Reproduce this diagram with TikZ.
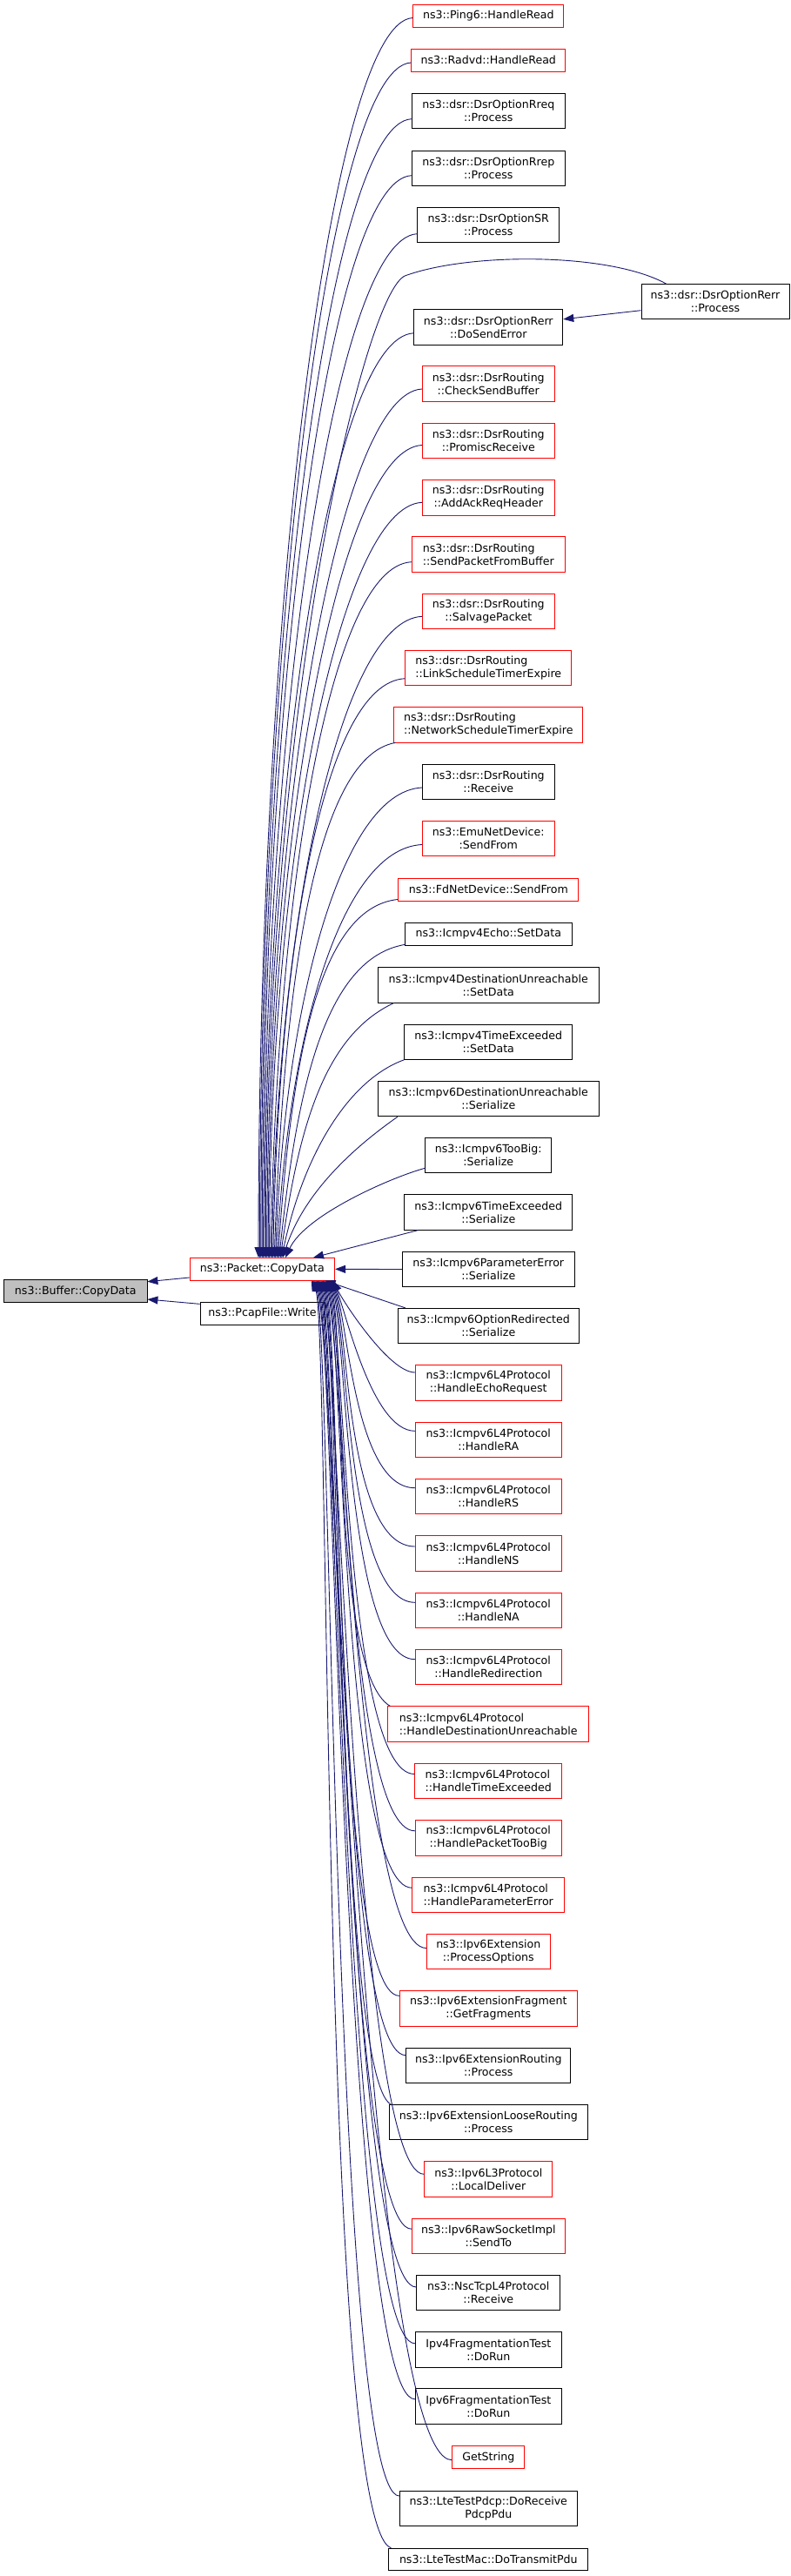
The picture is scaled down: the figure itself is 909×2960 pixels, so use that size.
\documentclass[tikz,border=0pt]{standalone}
\usepackage{fontspec}
\newfontfamily\dvs{DejaVu Sans}
\usetikzlibrary{arrows.meta,calc}
\definecolor{edgec}{HTML}{191970}
\definecolor{bufgray}{HTML}{BFBFBF}
\newcommand\twoline[2]{%
  \setbox0=\hbox{#1}\setbox2=\hbox{#2}%
  \ifdim\wd0>\wd2 \dimen0=\wd0 \else \dimen0=\wd2 \fi
  \vbox{\hbox to\dimen0{\box0\hfil}\hbox to\dimen0{\hfil\box2\hfil}}}
\tikzset{
  fn/.style={draw, line width=0.9pt, fill=white, inner sep=0pt, text=black,
    font=\dvs\fontsize{12.6}{15}\selectfont},
  fb/.style={fn, draw=black},
  fr/.style={fn, draw=red},
  one/.style={minimum height=25.6pt},
  two/.style={minimum height=40.3pt},
  edge/.style={draw=edgec, line width=0.9pt, -{Triangle[length=12pt,width=9pt]}},
}
\begin{document}
\begin{tikzpicture}[x=1pt,y=1pt]
\fill[white] (0,0) rectangle (909,-2960);
\useasboundingbox (0,0) rectangle (909,-2960);

% left nodes
\node[fr,one,minimum width=166.6pt] (pk) at (301.3,-1458.3) {ns3::Packet::CopyData};
\node[fb,minimum height=26pt,minimum width=164.3pt,fill=bufgray] (buf) at (86.8,-1483.7) {ns3::Buffer::CopyData};
\node[fb,one,minimum width=143pt] (pcap) at (301.5,-1509.3) {ns3::PcapFile::Write};

% right column
\node[fr,one,minimum width=173pt] (p6) at (561.3,-18.5) {ns3::Ping6::HandleRead};
\node[fr,one,minimum width=177pt] (rv) at (561.3,-69.3) {ns3::Radvd::HandleRead};
\node[fb,two,minimum width=176pt] (rq) at (561.3,-127.7) {\twoline{ns3::dsr::DsrOptionRreq}{::Process}};
\node[fb,two,minimum width=176pt] (rp) at (561.3,-193.2) {\twoline{ns3::dsr::DsrOptionRrep}{::Process}};
\node[fb,two,minimum width=163pt] (sr) at (561.3,-258.7) {\twoline{ns3::dsr::DsrOptionSR}{::Process}};
\node[fb,two,minimum width=171pt] (se) at (561.3,-375.8) {\twoline{ns3::dsr::DsrOptionRerr}{::DoSendError}};
\node[fb,two,minimum width=170pt] (rerr) at (822,-346.7) {\twoline{ns3::dsr::DsrOptionRerr}{::Process}};
\node[fr,two,minimum width=152pt] (csb) at (561.3,-441) {\twoline{ns3::dsr::DsrRouting}{::CheckSendBuffer}};
\node[fr,two,minimum width=152pt] (prc) at (561.3,-506.5) {\twoline{ns3::dsr::DsrRouting}{::PromiscReceive}};
\node[fr,two,minimum width=152pt] (aah) at (561.3,-571.8) {\twoline{ns3::dsr::DsrRouting}{::AddAckReqHeader}};
\node[fr,two,minimum width=176pt] (spb) at (561.3,-637) {\twoline{ns3::dsr::DsrRouting}{::SendPacketFromBuffer}};
\node[fr,two,minimum width=152pt] (svp) at (561.3,-702.3) {\twoline{ns3::dsr::DsrRouting}{::SalvagePacket}};
\node[fr,two,minimum width=191pt] (lst) at (561.3,-767.7) {\twoline{ns3::dsr::DsrRouting}{::LinkScheduleTimerExpire}};
\node[fr,two,minimum width=217pt] (nst) at (561.3,-832.8) {\twoline{ns3::dsr::DsrRouting}{::NetworkScheduleTimerExpire}};
\node[fb,two,minimum width=152pt] (drc) at (561.3,-898.3) {\twoline{ns3::dsr::DsrRouting}{::Receive}};
\node[fr,two,minimum width=152pt] (emu) at (561.3,-963.5) {\twoline{ns3::EmuNetDevice:}{:SendFrom}};
\node[fr,one,minimum width=207pt] (fd) at (561.3,-1022.2) {ns3::FdNetDevice::SendFrom};
\node[fb,one,minimum width=192pt] (e4) at (561.3,-1073.2) {ns3::Icmpv4Echo::SetData};
\node[fb,two,minimum width=254pt] (du4) at (561.3,-1131.8) {\twoline{ns3::Icmpv4DestinationUnreachable}{::SetData}};
\node[fb,two,minimum width=193pt] (te4) at (561.3,-1197.2) {\twoline{ns3::Icmpv4TimeExceeded}{::SetData}};
\node[fb,two,minimum width=254pt] (du6) at (561.3,-1262.7) {\twoline{ns3::Icmpv6DestinationUnreachable}{::Serialize}};
\node[fb,two,minimum width=145pt] (tb6) at (561.3,-1327.7) {\twoline{ns3::Icmpv6TooBig:}{:Serialize}};
\node[fb,two,minimum width=193pt] (te6) at (561.3,-1393) {\twoline{ns3::Icmpv6TimeExceeded}{::Serialize}};
\node[fb,two,minimum width=198pt] (pe6) at (561.3,-1458.5) {\twoline{ns3::Icmpv6ParameterError}{::Serialize}};
\node[fb,two,minimum width=208pt] (or6) at (561.3,-1523.5) {\twoline{ns3::Icmpv6OptionRedirected}{::Serialize}};
\node[fr,two,minimum width=168pt] (her) at (561.3,-1589) {\twoline{ns3::Icmpv6L4Protocol}{::HandleEchoRequest}};
\node[fr,two,minimum width=168pt] (hra) at (561.3,-1654.3) {\twoline{ns3::Icmpv6L4Protocol}{::HandleRA}};
\node[fr,two,minimum width=168pt] (hrs) at (561.3,-1719.7) {\twoline{ns3::Icmpv6L4Protocol}{::HandleRS}};
\node[fr,two,minimum width=168pt] (hns) at (561.3,-1785) {\twoline{ns3::Icmpv6L4Protocol}{::HandleNS}};
\node[fr,two,minimum width=168pt] (hna) at (561.3,-1850.3) {\twoline{ns3::Icmpv6L4Protocol}{::HandleNA}};
\node[fr,two,minimum width=168pt] (hrd) at (561.3,-1915.7) {\twoline{ns3::Icmpv6L4Protocol}{::HandleRedirection}};
\node[fr,two,minimum width=231pt] (hdu) at (561.3,-1981) {\twoline{ns3::Icmpv6L4Protocol}{::HandleDestinationUnreachable}};
\node[fr,two,minimum width=169pt] (hte) at (561.3,-2046.5) {\twoline{ns3::Icmpv6L4Protocol}{::HandleTimeExceeded}};
\node[fr,two,minimum width=168pt] (hpt) at (561.3,-2111.8) {\twoline{ns3::Icmpv6L4Protocol}{::HandlePacketTooBig}};
\node[fr,two,minimum width=175pt] (hpe) at (561.3,-2177.2) {\twoline{ns3::Icmpv6L4Protocol}{::HandleParameterError}};
\node[fr,two,minimum width=142pt] (po) at (561.3,-2242.5) {\twoline{ns3::Ipv6Extension}{::ProcessOptions}};
\node[fr,two,minimum width=204pt] (gf) at (561.3,-2307.8) {\twoline{ns3::Ipv6ExtensionFragment}{::GetFragments}};
\node[fb,two,minimum width=189pt] (erp) at (561.3,-2373.2) {\twoline{ns3::Ipv6ExtensionRouting}{::Process}};
\node[fb,two,minimum width=228pt] (elr) at (561.3,-2438.5) {\twoline{ns3::Ipv6ExtensionLooseRouting}{::Process}};
\node[fr,two,minimum width=147pt] (ld) at (561.3,-2503.8) {\twoline{ns3::Ipv6L3Protocol}{::LocalDeliver}};
\node[fr,two,minimum width=176pt] (rs) at (561.3,-2569.2) {\twoline{ns3::Ipv6RawSocketImpl}{::SendTo}};
\node[fb,two,minimum width=165pt] (nsc) at (561.3,-2634.5) {\twoline{ns3::NscTcpL4Protocol}{::Receive}};
\node[fb,two,minimum width=168pt] (f4) at (561.3,-2699.8) {\twoline{Ipv4FragmentationTest}{::DoRun}};
\node[fb,two,minimum width=168pt] (f6) at (561.3,-2764.8) {\twoline{Ipv6FragmentationTest}{::DoRun}};
\node[fr,one,minimum width=83pt] (gs) at (561.3,-2823.7) {GetString};
\node[fb,two,minimum width=204pt] (pd) at (561.3,-2882.5) {\twoline{ns3::LteTestPdcp::DoReceive}{PdcpPdu}};
\node[fb,one,minimum width=229pt] (mac) at (561.3,-2941) {ns3::LteTestMac::DoTransmitPdu};

% edges into Buffer::CopyData
\draw[edge] ($(pk.west)+(0,-9.7)$) -- ($(buf.east)+(0,11)$);
\draw[edge] ($(pcap.north west)+(0,-2.3)$) -- ($(buf.east)+(0,-9.3)$);

% DsrOptionRerr::Process
\draw[edge] ($(rerr.west)+(0,-10)$) -- ($(se.east)+(0,9)$);
\coordinate (rrbend) at (466,-316.7);
\draw[edge] ($(rerr.north west)+(29,0)$) .. controls (700,-290) and (540,-290) .. (rrbend)
   .. controls (420,-333) and (305.3,-800) .. ($(pk.north)+(4,0)$);

% upper callers
\draw[edge] ($(p6.west)+(0,-2)$)   .. controls +(-95,-5) and +(0,741) .. ($(pk.north)+(-4.3,0)$);
\draw[edge] ($(rv.west)+(0,-2.7)$) .. controls +(-95,-5) and +(0,714) .. ($(pk.north)+(-2.9,0)$);
\draw[edge] ($(rq.west)+(0,-9)$)   .. controls +(-95,-5) and +(0,681) .. ($(pk.north)+(-1.5,0)$);
\draw[edge] ($(rp.west)+(0,-8.5)$) .. controls +(-95,-5) and +(0,647) .. ($(pk.north)+(-0.1,0)$);
\draw[edge] ($(sr.west)+(0,-10)$)  .. controls +(-95,-5) and +(0,612) .. ($(pk.north)+(1.3,0)$);
\draw[edge] ($(se.west)+(0,-7)$)   .. controls +(-95,-5) and +(0,553) .. ($(pk.north)+(2.7,0)$);
\draw[edge] ($(csb.west)+(0,-6)$)  .. controls +(-95,-5) and +(0,519) .. ($(pk.north)+(5.5,0)$);
\draw[edge] ($(prc.west)+(0,-5)$)  .. controls +(-95,-5) and +(0,486) .. ($(pk.north)+(6.9,0)$);
\draw[edge] ($(aah.west)+(0,-5.5)$) .. controls +(-95,-5) and +(0,451) .. ($(pk.north)+(8.3,0)$);
\draw[edge] ($(spb.west)+(0,-8.7)$) .. controls +(-95,-5) and +(7.3,416) .. ($(pk.north)+(9.7,0)$);
\draw[edge] ($(svp.west)+(0,-6)$)  .. controls +(-95,-5) and +(6.7,383) .. ($(pk.north)+(11.1,0)$);
\draw[edge] ($(lst.west)+(0,-12)$) .. controls +(-95,-5) and +(6,346) .. ($(pk.north)+(12.5,0)$);
\draw[edge] ($(nst.south west)+(2,0)$) .. controls +(-93.6,-16.5) and +(10.7,308) .. ($(pk.north)+(13.9,0)$);
\draw[edge] ($(drc.west)+(0,-6.7)$) .. controls +(-95,-5) and +(9.8,281) .. ($(pk.north)+(15.3,0)$);
\draw[edge] ($(emu.west)+(0,-7)$)  .. controls +(-95,-5) and +(12.9,247) .. ($(pk.north)+(16.7,0)$);
\draw[edge] ($(fd.south west)+(0,2)$) .. controls +(-94.5,-9.9) and +(15,214.5) .. ($(pk.north)+(18.1,0)$);
\draw[edge] ($(e4.south west)+(0,1)$) .. controls +(-93.6,-16.5) and +(19.7,187) .. ($(pk.north)+(19.5,0)$);
\draw[edge] ($(du4.south west)+(19,0)$) .. controls +(-79.8,-37.2) and +(21.3,151.5) .. ($(pk.north)+(20.9,0)$);
\draw[edge] (te4.south west) .. controls +(-64.8,-23.6) and +(25,117.4) .. ($(pk.north)+(22.3,0)$);
\draw[edge] ($(du6.south west)+(23,0)$) .. controls +(-40.1,-28.1) and +(26.3,80.8) .. ($(pk.north)+(23.7,0)$);
\draw[edge] ($(tb6.south west)+(0,6)$) .. controls +(-38.6,-10.4) and +(22.8,48.9) .. ($(pk.north)+(26.7,0)$);
\draw[edge] ($(te6.south west)+(16,0)$) -- ($(pk.north)+(58.7,0)$);
\draw[edge] (pe6.west) -- (pk.east);
\draw[edge] ($(or6.north west)+(9,0)$) -- ($(pk.south east)+(-11.6,0)$);

% lower callers
\draw[edge] ($(her.west)+(0,12)$) .. controls +(-30,0) and +(10.6,-22.7) .. ($(pk.south)+(81.7,0)$);
\draw[edge] ($(hra.west)+(0,10)$) .. controls +(-50,0) and +(14.8,-31.7) .. ($(pk.south)+(80.5,0)$);
\draw[edge] ($(hrs.west)+(0,10)$) .. controls +(-70,0) and +(19,-40.8) .. ($(pk.south)+(79.3,0)$);
\draw[edge] ($(hns.west)+(0,8)$)  .. controls +(-80,0) and +(21.1,-45.3) .. ($(pk.south)+(78.1,0)$);
\draw[edge] ($(hna.west)+(0,9)$)  .. controls +(-80,0) and +(21.1,-45.3) .. ($(pk.south)+(76.9,0)$);
\draw[edge] ($(hrd.west)+(0,9)$)  .. controls +(-80,0) and +(21.1,-45.3) .. ($(pk.south)+(75.7,0)$);
\draw[edge] ($(hdu.north west)+(3,0)$) .. controls +(-69,40) and +(21.1,-45.3) .. ($(pk.south)+(74.5,0)$);
\draw[edge] ($(hte.west)+(0,8)$)  .. controls +(-80,0) and +(21.1,-45.3) .. ($(pk.south)+(73.3,0)$);
\draw[edge] ($(hpt.west)+(0,8)$)  .. controls +(-80,0) and +(21.1,-45.3) .. ($(pk.south)+(72.1,0)$);
\draw[edge] ($(hpe.west)+(0,8)$)  .. controls +(-80,0) and +(21.1,-45.3) .. ($(pk.south)+(70.9,0)$);
\draw[edge] ($(po.west)+(0,4)$)   .. controls +(-80,0) and +(21.1,-45.3) .. ($(pk.south)+(69.7,0)$);
\draw[edge] ($(gf.west)+(0,14.5)$) .. controls +(-75,0) and +(21.1,-45.3) .. ($(pk.south)+(68.5,0)$);
\draw[edge] ($(erp.west)+(0,11.5)$) .. controls +(-78,0) and +(21.1,-45.3) .. ($(pk.south)+(67.3,0)$);
\draw[edge] ($(elr.north west)+(2,0)$) .. controls +(-60,35) and +(21.1,-45.3) .. ($(pk.south)+(66.1,0)$);
\draw[edge] ($(ld.west)+(0,5.5)$)  .. controls +(-80,0) and +(21.1,-45.3) .. ($(pk.south)+(64.9,0)$);
\draw[edge] ($(rs.west)+(0,8)$)    .. controls +(-80,0) and +(21.1,-45.3) .. ($(pk.south)+(63.7,0)$);
\draw[edge] ($(nsc.west)+(0,6.5)$) .. controls +(-80,0) and +(21.1,-45.3) .. ($(pk.south)+(62.5,0)$);
\draw[edge] ($(f4.west)+(0,7)$)    .. controls +(-80,0) and +(21.1,-45.3) .. ($(pk.south)+(61.3,0)$);
\draw[edge] ($(f6.west)+(0,8)$)    .. controls +(-80,0) and +(21.1,-45.3) .. ($(pk.south)+(60.1,0)$);
\draw[edge] ($(gs.west)+(0,-3)$)   .. controls +(-100,0) and +(21.1,-45.3) .. ($(pk.south)+(58.9,0)$);
\draw[edge] ($(pd.west)+(0,14.5)$) .. controls +(-75,0) and +(21.1,-45.3) .. ($(pk.south)+(57.7,0)$);
\draw[edge] ($(mac.north west)+(3,0)$) .. controls +(-80,28) and +(21.1,-45.3) .. ($(pk.south)+(56.5,0)$);
\end{tikzpicture}
\end{document}
